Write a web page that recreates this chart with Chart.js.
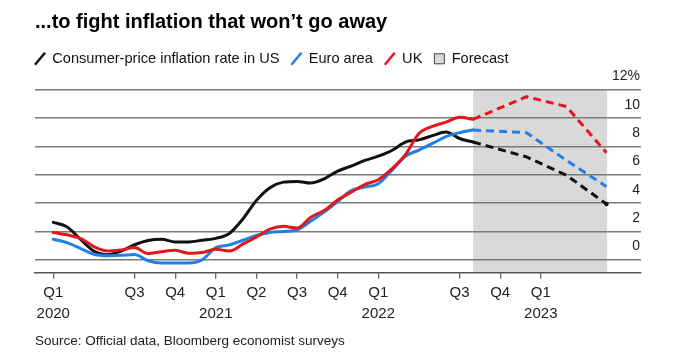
<!DOCTYPE html>
<html><head><meta charset="utf-8">
<script src="https://cdn.jsdelivr.net/npm/chart.js@4/dist/chart.umd.min.js"></script>
<style>html,body{margin:0;padding:0;background:#fff}#wrap{width:678px;height:364px;position:relative}</style>
</head><body><div id="wrap"><canvas id="c"></canvas></div>
<script>
// Months since Jan 2020 (0 = Jan 2020)
const months = [0,1,2,3,4,5,6,7,8,9,10,11,12,13,14,15,16,17,18,19,20,21,22,23,24,25,26,27,28,29,30,31];
const usActual = [2.63,2.32,1.44,0.6,0.35,0.6,1.05,1.35,1.44,1.25,1.25,1.37,1.5,1.85,2.87,4.17,5.07,5.47,5.52,5.4,5.7,6.25,6.6,7.0,7.3,7.7,8.3,8.45,8.75,9.0,8.55,8.3];
const euActual = [1.44,1.2,0.8,0.38,0.28,0.3,0.36,-0.08,-0.24,-0.24,-0.24,0.0,0.85,1.04,1.37,1.7,1.92,1.99,2.1,2.7,3.35,4.1,4.88,5.12,5.36,6.3,7.3,7.73,8.2,8.68,8.96,9.15];
const ukActual = [1.92,1.75,1.5,0.92,0.61,0.68,0.85,0.42,0.56,0.66,0.45,0.5,0.73,0.61,1.09,1.6,2.15,2.35,2.23,2.98,3.46,4.2,4.76,5.3,5.64,6.4,7.4,8.9,9.4,9.7,10.05,9.9];
// Forecast (dashed) points
const forecastMonths = [31, 34.95, 37.9, 40.85];
const usForecast = [8.3, 7.25, 5.95, 3.93];
const euForecast = [9.15, 8.96, 7.0, 5.15];
const ukForecast = [9.9, 11.5, 10.8, 7.54];
const forecastSpan = [31.0, 40.9];
// Axis ticks
const tickMonths = [0, 6, 9, 12, 15, 18, 21, 24, 30, 33, 36];
const tickLabels = [['Q1','2020'],'Q3','Q4',['Q1','2021'],'Q2','Q3','Q4',['Q1','2022'],'Q3','Q4',['Q1','2023']];
const yTicks = [0, 2, 4, 6, 8, 10, 12];
const seriesNames = ['Consumer-price inflation rate in US', 'Euro area', 'UK', 'Forecast'];
const titleText = '...to fight inflation that won\u2019t go away';
const sourceText = 'Source: Official data, Bloomberg economist surveys';

const colors = {us: '#111111', eu: '#1f80e6', uk: '#e3161b', shade: '#d9d9d9'};
const FONT = "'Liberation Sans', Arial, sans-serif";

function pts(xs, ys) { return xs.map((x, i) => ({x: x, y: ys[i]})); }

const shadePlugin = {
  id: 'shade',
  beforeDraw(chart) {
    const {ctx, chartArea: a, scales: {x}} = chart;
    const x0 = x.getPixelForValue(forecastSpan[0]);
    const x1 = x.getPixelForValue(forecastSpan[1]);
    ctx.save();
    ctx.fillStyle = colors.shade;
    ctx.fillRect(x0, a.top, x1 - x0, a.bottom - a.top);
    ctx.restore();
  }
};
const legendTweak = {
  id: 'legendTweak',
  beforeInit(chart) {
    const orig = chart.legend.fit;
    chart.legend.fit = function () { orig.bind(chart.legend)(); this.height += 13.5; };
  },
  afterLayout(chart) {
    chart.legend.left -= 12;
    chart.legend.right -= 12;
  }
};

const actualStyle = {borderWidth: 3, pointRadius: 0, cubicInterpolationMode: 'monotone', fill: false, borderCapStyle: 'round', borderJoinStyle: 'round'};
const fcStyle = {borderWidth: 3, pointRadius: 0, tension: 0, fill: false, borderDash: [8, 5]};

new Chart(document.getElementById('c'), {
  type: 'line',
  data: {
    datasets: [
      Object.assign({data: pts(months, ukActual), borderColor: colors.uk, order: 0}, actualStyle),
      Object.assign({data: pts(forecastMonths, ukForecast), borderColor: colors.uk, order: 0}, fcStyle),
      Object.assign({data: pts(months, euActual), borderColor: colors.eu, order: 1}, actualStyle),
      Object.assign({data: pts(forecastMonths, euForecast), borderColor: colors.eu, order: 1}, fcStyle),
      Object.assign({data: pts(months, usActual), borderColor: colors.us, order: 2}, actualStyle),
      Object.assign({data: pts(forecastMonths, usForecast), borderColor: colors.us, order: 2,
        pointBackgroundColor: colors.us, pointBorderWidth: 0}, fcStyle, {pointRadius: [0,0,0,2.2]})
    ]
  },
  options: {
    responsive: true,
    maintainAspectRatio: false,
    animation: false,
    layout: {padding: {left: 35, right: 37, top: 0, bottom: 15}},
    plugins: {
      tooltip: {enabled: false},
      title: {display: true, text: titleText, align: 'start', color: '#000',
        font: {family: FONT, size: 20, weight: 'bold'}, padding: {top: 10, bottom: 5.5}},
      subtitle: {display: true, text: sourceText, position: 'bottom', align: 'start', color: '#222',
        font: {family: FONT, size: 13.5}, padding: {top: 4, bottom: 0}},
      legend: {
        display: true, align: 'start', onClick: null,
        labels: {
          usePointStyle: true, pointStyleWidth: 10, boxHeight: 10, padding: 12,
          color: '#111', font: {family: FONT, size: 14.6},
          generateLabels: () => [
            {text: seriesNames[0], strokeStyle: colors.us, fillStyle: colors.us, lineWidth: 2.5, pointStyle: 'line', rotation: -58, fontColor: '#111', lineCap: 'butt'},
            {text: seriesNames[1], strokeStyle: colors.eu, fillStyle: colors.eu, lineWidth: 2.5, pointStyle: 'line', rotation: -58, fontColor: '#111', lineCap: 'butt'},
            {text: seriesNames[2], strokeStyle: colors.uk, fillStyle: colors.uk, lineWidth: 2.5, pointStyle: 'line', rotation: -58, fontColor: '#111', lineCap: 'butt'},
            {text: seriesNames[3], strokeStyle: '#444', fillStyle: colors.shade, lineWidth: 1, pointStyle: 'rect', rotation: 0, fontColor: '#111'}
          ]
        }
      }
    },
    scales: {
      x: {
        type: 'linear', min: -1.35, max: 43.4,
        afterBuildTicks: (s) => { s.ticks = tickMonths.map(v => ({value: v})); },
        grid: {drawOnChartArea: false, drawTicks: true, tickLength: 6, color: '#666', lineWidth: 1.3},
        border: {display: true, color: '#555', width: 1.6},
        ticks: {autoSkip: false, maxRotation: 0, padding: 4, color: '#222',
          font: {family: FONT, size: 15, lineHeight: 1.4},
          callback: (v) => { const i = tickMonths.indexOf(v); return i >= 0 ? tickLabels[i] : ''; }}
      },
      y: {
        position: 'right', min: -0.93, max: 12,
        afterBuildTicks: (s) => { s.ticks = yTicks.map(v => ({value: v})); },
        grid: {drawTicks: false, color: '#7a7a7a', lineWidth: 1.5},
        border: {display: false},
        ticks: {mirror: true, padding: -1, labelOffset: -13, color: '#222',
          font: {family: FONT, size: 14},
          callback: (v) => v === 12 ? '12%' : String(v)}
      }
    }
  },
  plugins: [shadePlugin, legendTweak]
});
</script>
</body></html>
